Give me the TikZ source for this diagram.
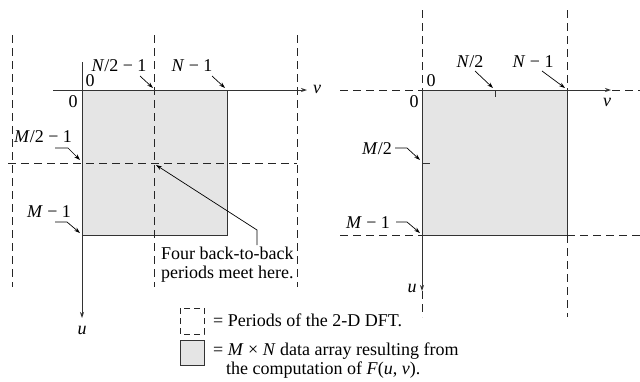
\documentclass[tikz,border=0pt]{standalone}
\usepackage{fontspec}
\setmainfont{Liberation Serif}
\usetikzlibrary{arrows.meta}
\tikzset{
  per/.style={draw=black!85, line width=0.8pt, dash pattern=on 8pt off 5pt},
  axis/.style={draw=black!80, line width=0.9pt},
  arr/.style={-{Stealth[length=6pt,width=4pt]}},
  lead/.style={draw=black, line width=0.7pt, -{Stealth[length=6pt,width=4pt]}},
  arrayfill/.style={fill=black!10},
  lbl/.style={inner sep=0pt, font=\fontsize{18}{19}\selectfont},
}
\begin{document}
\begin{tikzpicture}[x=1pt,y=-1pt]
\useasboundingbox (0,0) rectangle (640,381);
% ---------- left diagram ----------
\fill[arrayfill] (82,90) rectangle (227,235);
\draw[axis] (227,90) -- (227,235) -- (82,235);
\draw[per] (12,35) -- (12,287);
\draw[per] (154,35) -- (154,287);
\draw[per] (297,35) -- (297,287);
\draw[per] (8,163) -- (297,163);
\coordinate (uL0) at (82,62);
\coordinate (uL1) at (82,318);
\coordinate (vL0) at (53,90);
\coordinate (vL1) at (307,90);
\draw[axis,arr] (uL0) -- (uL1);
\draw[axis,arr] (vL0) -- (vL1);
\node[lbl] (uL) at (82,330) {\textit{u}};
\node[lbl] (vL) at (317,89) {\textit{v}};
\node[lbl] (z1) at (90,81) {0};
\node[lbl] (z2) at (73,102) {0};
\node[lbl] (n2L) at (119,66) {\textit{N}/2 − 1};
\node[lbl] (n1L) at (192,66) {\textit{N} − 1};
\node[lbl] (m2L) at (43,137) {\textit{M}/2 − 1};
\node[lbl] (m1L) at (49,212) {\textit{M} − 1};
\coordinate (pn2L) at (153,88);
\coordinate (pn1L) at (225,88);
\coordinate (pm2L) at (80,160);
\coordinate (pm1L) at (80,233);
\coordinate (meet) at (156,165);
\draw[lead] (140,76) -- (pn2L);
\draw[lead] (212,76) -- (pn1L);
\draw[lead] (55,148) -- (68,148) -- (pm2L);
\draw[lead] (55,222) -- (67,222) -- (pm1L);
\node[lbl, anchor=north west, align=left] (four) at (161,247) {Four back-to-back\\periods meet here.};
\coordinate (fourtop) at (257,245);
\draw[lead] (fourtop) -- (257,230) -- (meet);
% ---------- legend ----------
\draw[per, dash pattern=on 6pt off 4pt] (180,308) rectangle (204,334);
\draw[draw=black!80, line width=0.8pt, arrayfill] (180,340) rectangle (204,365);
\node[lbl, anchor=base west] (leg1) at (213,326) {= Periods of the 2-D DFT.};
\node[lbl, anchor=base west] (leg2) at (213,355) {= \textit{M} × \textit{N} data array resulting from};
\node[lbl, anchor=base west] (leg3) at (226,374) {the computation of \textit{F}(\textit{u}, \textit{v}).};
% ---------- right diagram ----------
\fill[arrayfill] (422,90) rectangle (567,235);
\draw[axis] (567,90) -- (567,235) -- (422,235);
\draw[per] (422,10) -- (422,90);
\draw[per] (567,10) -- (567,90);
\draw[per] (340,90) -- (422,90);
\draw[per] (612,90) -- (640,90);
\draw[per] (340,235) -- (422,235);
\draw[per] (567,235) -- (640,235);
\draw[per] (422,291) -- (422,317);
\draw[per] (567,235) -- (567,317);
\coordinate (oR) at (422,90);
\coordinate (uR1) at (422,291);
\coordinate (vR1) at (611,90);
\draw[axis,arr] (oR) -- (uR1);
\draw[axis,arr] (oR) -- (vR1);
\draw[axis] (495,90) -- (495,97);
\draw[axis] (422,163) -- (430,163);
\node[lbl] (uR) at (412,288) {\textit{u}};
\node[lbl] (vR) at (607,102) {\textit{v}};
\node[lbl] (z3) at (431,81) {0};
\node[lbl] (z4) at (414,102) {0};
\node[lbl] (n2R) at (470,62) {\textit{N}/2};
\node[lbl] (n1R) at (533,62) {\textit{N} − 1};
\node[lbl] (m2R) at (377,149) {\textit{M}/2};
\node[lbl] (m1R) at (368,223) {\textit{M} − 1};
\coordinate (pn2R) at (493,88);
\coordinate (pn1R) at (565,88);
\coordinate (pm2R) at (420,160);
\coordinate (pm1R) at (420,233);
\draw[lead] (475,71) -- (pn2R);
\draw[lead] (542,71) -- (pn1R);
\draw[lead] (395,148) -- (407,148) -- (pm2R);
\draw[lead] (396,222) -- (407,222) -- (pm1R);
\end{tikzpicture}
\end{document}
